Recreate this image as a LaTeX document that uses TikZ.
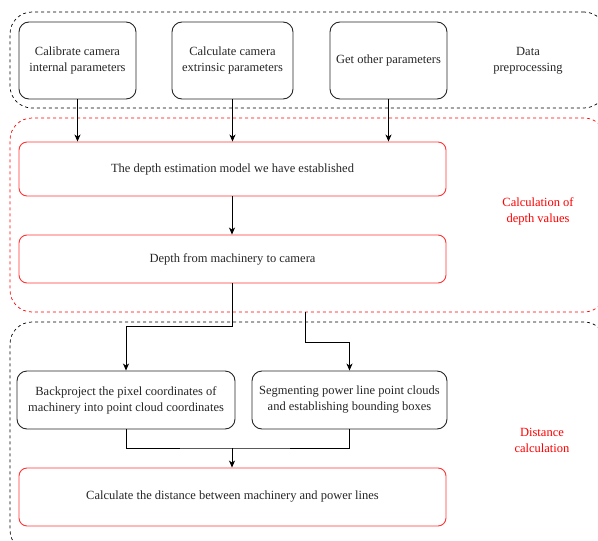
\documentclass[tikz,border=0pt]{standalone}
\usepackage{fontspec}
\setmainfont{Liberation Serif}
\usetikzlibrary{arrows.meta}
\definecolor{boxred}{RGB}{255,51,51}
\definecolor{txtgray}{RGB}{38,38,38}
\begin{document}
\begin{tikzpicture}[x=1pt,y=-1pt,
    every node/.style={font=\fontsize{12.5}{16}\selectfont, text=txtgray, align=center, inner sep=0pt},
    blackbox/.style={draw=txtgray, line width=0.9pt, rounded corners=10pt},
    redbox/.style={draw=boxred, line width=0.9pt, rounded corners=8pt},
    group/.style={draw=black, line width=0.7pt, dash pattern=on 3pt off 3pt, rounded corners=22pt},
    redgroup/.style={group, draw=red},
    flow/.style={draw=black, line width=0.8pt, -{Stealth[length=7pt,width=6pt,inset=2pt]}}]
    \useasboundingbox (0,0) rectangle (598,541);
    \clip (0,0) rectangle (598,541);
    % groups
    \node [group, minimum width=596pt, minimum height=96pt] (prepgrp) at (308,60) {};
    \node [redgroup, minimum width=596pt, minimum height=194pt] (depthgrp) at (308,215) {};
    \node [group, minimum width=596pt, minimum height=230pt] (distgrp) at (308,437) {};
    % steps
    \node [blackbox, minimum width=117pt, minimum height=77pt] (calib) at (77.5,60.5) {Calibrate camera\\internal parameters};
    \node [blackbox, minimum width=121pt, minimum height=77pt] (extr) at (232.5,60.5) {Calculate camera\\extrinsic parameters};
    \node [blackbox, minimum width=117pt, minimum height=77pt] (other) at (388.5,60.5) {Get other parameters};
    \node [redbox, minimum width=427pt, minimum height=54pt] (model) at (232.5,169) {The depth estimation model we have established};
    \node [redbox, minimum width=427pt, minimum height=48pt] (depth) at (232.5,259) {Depth from machinery to camera};
    \node [blackbox, minimum width=218pt, minimum height=58pt] (backproj) at (126,400) {Backproject the pixel coordinates of\\machinery into point cloud coordinates};
    \node [blackbox, minimum width=195pt, minimum height=58pt] (segment) at (349.5,400) {Segmenting power line point clouds\\and establishing bounding boxes};
    \node [redbox, minimum width=427pt, minimum height=58pt] (dist) at (232.5,497) {Calculate the distance between machinery and power lines};
    % group labels
    \node (preplbl) at (528,61) {Data\\preprocessing};
    \node [text=red] (depthlbl) at (538,211) {Calculation of\\depth values};
    \node [text=red] (distlbl) at (542,440) {Distance\\calculation};
    % connectors
    \coordinate (split) at (232,326);
    \coordinate (tap) at (305,312);
    \coordinate (bend) at (305,342);
    \coordinate (merge) at (232,448);
    \draw [flow] (calib.south) -- (calib.south |- model.north);
    \draw [flow] (extr.south) -- (extr.south |- model.north);
    \draw [flow] (other.south) -- (other.south |- model.north);
    \draw [flow] (model.south -| split) -- (depth.north -| split);
    \draw [flow] (depth.south -| split) -- (split) -| (backproj.north);
    \draw [flow] (tap) -- (bend) -| (segment.north);
    \draw [line width=0.8pt] (backproj.south) |- (merge) -| (segment.south);
    \draw [flow] (merge) -- (dist.north -| merge);
\end{tikzpicture}
\end{document}
